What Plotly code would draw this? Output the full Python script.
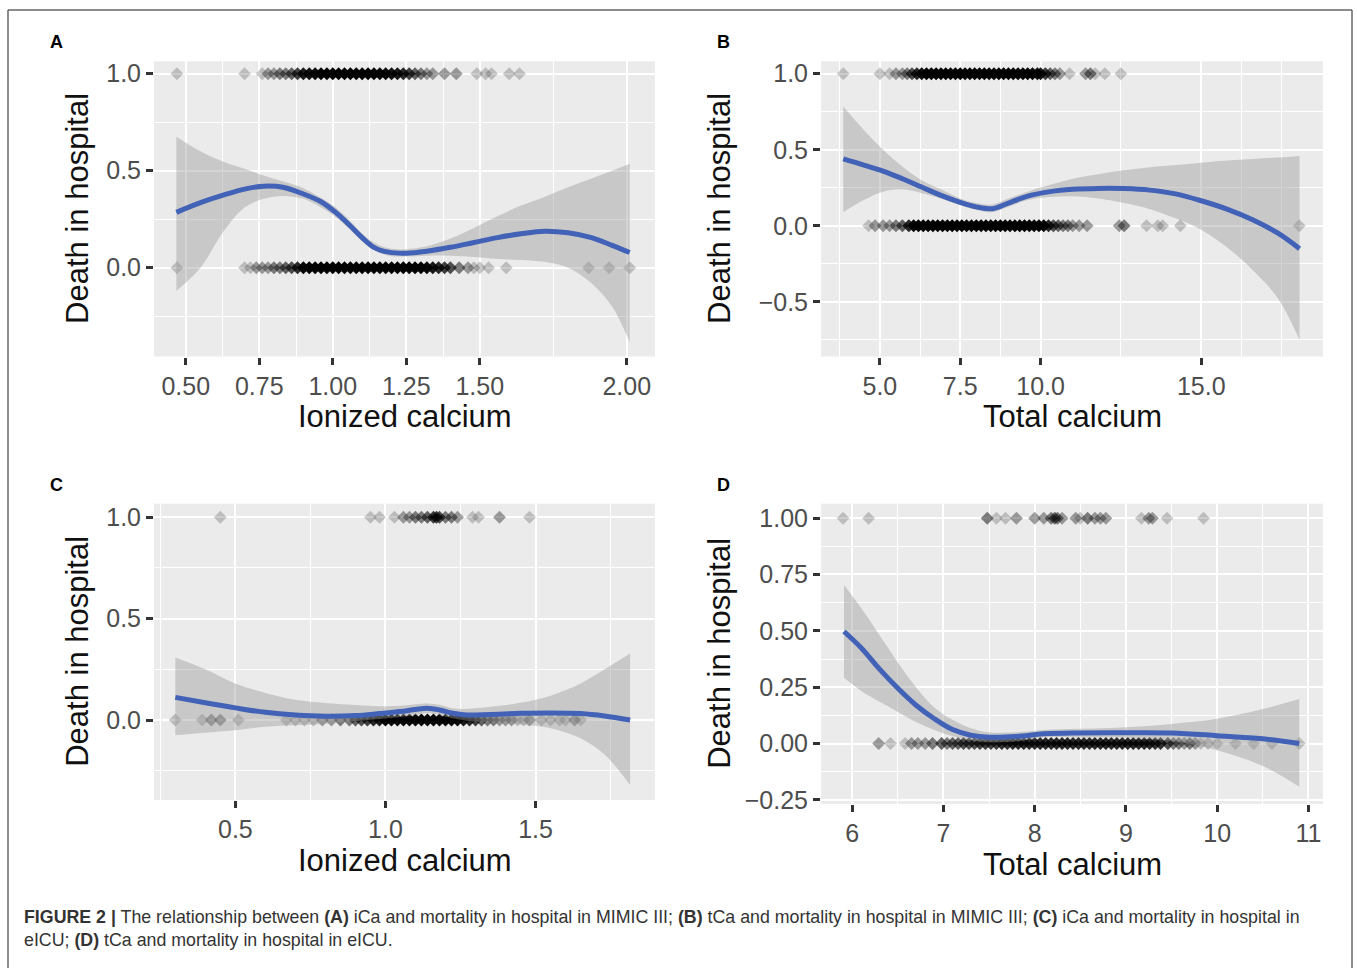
import plotly.graph_objects as go

W, H = 1357, 968

# ---------------- DATA ----------------
# Panel A: ionized calcium (MIMIC III)
a_x1 = [0.47, 0.70, 0.76, 0.78, 0.80, 0.82, 0.84, 0.86, 0.88, 0.90, 0.92, 0.94, 0.96, 0.98, 1.00, 1.02, 1.04, 1.06, 1.08, 1.10,
        1.12, 1.14, 1.16, 1.18, 1.20, 1.22, 1.24, 1.26, 1.28, 1.30, 1.32, 1.34, 1.38, 1.42, 1.49, 1.52, 1.54, 1.60, 1.635]
a_c1 = [1, 1, 1, 2, 2, 3, 3, 4, 6, 10, 12, 15, 20, 20, 20, 20, 20, 20, 20, 20,
        20, 20, 20, 15, 12, 10, 8, 6, 4, 3, 2, 2, 2, 2, 1, 1, 1, 1, 1]
a_x0 = [0.47, 0.70, 0.72, 0.74, 0.76, 0.78, 0.80, 0.82, 0.84, 0.86, 0.88, 0.90, 0.92, 0.94, 0.96, 0.98, 1.00, 1.02, 1.04, 1.06,
        1.08, 1.10, 1.12, 1.14, 1.16, 1.18, 1.20, 1.22, 1.24, 1.26, 1.28, 1.30, 1.32, 1.34, 1.36, 1.38, 1.40, 1.43, 1.46, 1.48,
        1.50, 1.53, 1.59, 1.87, 1.94, 2.01]
a_c0 = [1, 1, 1, 2, 2, 2, 3, 3, 4, 5, 8, 15, 20, 20, 20, 20, 20, 20, 20, 20,
        20, 20, 20, 20, 20, 20, 20, 20, 20, 20, 20, 20, 15, 10, 8, 6, 5, 3, 2, 1,
        1, 1, 1, 1, 1, 1]
a_sx = [0.468, 0.55, 0.63, 0.70, 0.765, 0.83, 0.90, 0.96, 1.01, 1.06, 1.10, 1.14, 1.19, 1.25, 1.32, 1.40, 1.48, 1.56, 1.64, 1.72, 1.80, 1.88, 1.95, 2.01]
a_fit = [0.285, 0.335, 0.375, 0.405, 0.42, 0.415, 0.38, 0.34, 0.285, 0.215, 0.155, 0.105, 0.08, 0.075, 0.085, 0.105, 0.13, 0.155, 0.175, 0.188, 0.18, 0.155, 0.115, 0.078]
a_lo = [-0.12, 0.0, 0.19, 0.31, 0.355, 0.37, 0.355, 0.31, 0.26, 0.195, 0.135, 0.09, 0.062, 0.058, 0.062, 0.062, 0.055, 0.045, 0.04, 0.03, 0.0, -0.08, -0.2, -0.385]
a_hi = [0.675, 0.60, 0.545, 0.51, 0.475, 0.445, 0.41, 0.36, 0.31, 0.24, 0.175, 0.13, 0.10, 0.095, 0.11, 0.15, 0.205, 0.265, 0.32, 0.365, 0.415, 0.46, 0.50, 0.536]

# Panel B: total calcium (MIMIC III)
b_x1 = [3.86, 5.0, 5.3, 5.5, 5.7, 5.85, 6.0, 6.15, 6.3, 6.45, 6.6, 6.75, 6.9, 7.05, 7.2, 7.35, 7.5, 7.65, 7.8, 7.95, 8.1, 8.25,
        8.4, 8.55, 8.7, 8.85, 9.0, 9.15, 9.3, 9.45, 9.6, 9.75, 9.9, 10.0, 10.15, 10.3, 10.45, 10.6, 10.9, 11.4, 11.55, 11.7, 12.0, 12.5]
b_c1 = [1, 1, 1, 2, 2, 3, 5, 8, 12, 20, 20, 20, 20, 20, 20, 20, 20, 20, 20, 20, 20, 20,
        20, 20, 20, 20, 20, 20, 20, 20, 20, 15, 12, 10, 6, 4, 3, 2, 1, 2, 3, 1, 1, 1]
b_x0 = [4.65, 4.85, 5.1, 5.3, 5.5, 5.7, 5.9, 6.05, 6.2, 6.35, 6.5, 6.65, 6.8, 6.95, 7.1, 7.25, 7.4, 7.55, 7.7, 7.85, 8.0, 8.15,
        8.3, 8.45, 8.6, 8.75, 8.9, 9.05, 9.2, 9.35, 9.5, 9.65, 9.8, 9.95, 10.1, 10.25, 10.4, 10.55, 10.7, 10.85, 11.0, 11.2, 11.45,
        12.45, 12.6, 13.3, 13.65, 13.8, 14.35, 18.05]
b_c0 = [1, 2, 2, 2, 3, 4, 8, 15, 20, 20, 20, 20, 20, 20, 20, 20, 20, 20, 20, 20, 20, 20,
        20, 20, 20, 20, 20, 20, 20, 20, 20, 20, 20, 20, 15, 8, 5, 4, 3, 3, 2, 2, 2,
        2, 3, 1, 1, 1, 1, 1]
b_sx = [3.86, 4.5, 5.1, 5.7, 6.3, 6.9, 7.5, 8.0, 8.5, 9.0, 9.6, 10.3, 11.0, 11.8, 12.6, 13.4, 14.2, 15.0, 15.8, 16.6, 17.4, 18.06]
b_fit = [0.44, 0.40, 0.36, 0.31, 0.255, 0.20, 0.155, 0.125, 0.113, 0.15, 0.195, 0.225, 0.24, 0.246, 0.245, 0.235, 0.21, 0.165, 0.11, 0.04, -0.05, -0.15]
b_lo = [0.09, 0.17, 0.225, 0.24, 0.215, 0.18, 0.135, 0.105, 0.09, 0.125, 0.17, 0.19, 0.195, 0.18, 0.15, 0.11, 0.05, -0.025, -0.14, -0.29, -0.48, -0.75]
b_hi = [0.784, 0.63, 0.50, 0.39, 0.30, 0.24, 0.18, 0.15, 0.14, 0.18, 0.225, 0.27, 0.31, 0.34, 0.365, 0.385, 0.40, 0.415, 0.43, 0.44, 0.45, 0.46]

# Panel C: ionized calcium (eICU)
c_x1 = [0.45, 0.95, 0.98, 1.03, 1.06, 1.08, 1.10, 1.12, 1.14, 1.16, 1.17, 1.18, 1.20, 1.22, 1.24, 1.29, 1.31, 1.38, 1.48]
c_c1 = [1, 1, 1, 1, 2, 2, 3, 3, 4, 6, 6, 5, 3, 3, 2, 1, 1, 2, 1]
c_x0 = [0.30, 0.39, 0.42, 0.45, 0.51, 0.67, 0.70, 0.73, 0.76, 0.79, 0.82, 0.85, 0.88, 0.90, 0.92, 0.94, 0.96, 0.98, 1.00, 1.02,
        1.04, 1.06, 1.08, 1.10, 1.12, 1.14, 1.16, 1.18, 1.20, 1.22, 1.24, 1.26, 1.28, 1.30, 1.32, 1.34, 1.36, 1.38, 1.40, 1.42,
        1.44, 1.46, 1.48, 1.52, 1.55, 1.58, 1.60, 1.63, 1.65]
c_c0 = [1, 1, 2, 2, 1, 1, 1, 1, 1, 2, 2, 3, 3, 4, 5, 6, 8, 10, 15, 15,
        15, 15, 15, 15, 15, 15, 15, 15, 15, 15, 15, 10, 8, 6, 4, 3, 3, 2, 2, 2,
        1, 1, 2, 1, 1, 1, 1, 2, 1]
c_sx = [0.30, 0.40, 0.50, 0.60, 0.70, 0.80, 0.90, 0.98, 1.05, 1.10, 1.14, 1.18, 1.22, 1.27, 1.35, 1.45, 1.55, 1.65, 1.73, 1.815]
c_fit = [0.112, 0.085, 0.06, 0.038, 0.025, 0.019, 0.022, 0.032, 0.042, 0.052, 0.058, 0.05, 0.035, 0.025, 0.028, 0.033, 0.035, 0.032, 0.02, 0.0]
c_lo = [-0.075, -0.062, -0.05, -0.033, -0.026, -0.018, -0.005, 0.005, 0.015, 0.025, 0.035, 0.025, 0.01, -0.003, -0.012, -0.022, -0.04, -0.09, -0.17, -0.32]
c_hi = [0.308, 0.25, 0.18, 0.134, 0.10, 0.084, 0.074, 0.068, 0.07, 0.078, 0.082, 0.075, 0.06, 0.055, 0.065, 0.085, 0.12, 0.18, 0.25, 0.328]

# Panel D: total calcium (eICU)
d_x1 = [5.9, 6.18, 7.48, 7.58, 7.68, 7.8, 8.0, 8.1, 8.18, 8.22, 8.25, 8.3, 8.45, 8.5, 8.58, 8.66, 8.72, 8.78, 9.17, 9.25, 9.29, 9.45, 9.85]
d_c1 = [1, 1, 3, 1, 1, 2, 2, 2, 3, 4, 3, 2, 2, 1, 3, 2, 2, 2, 1, 2, 2, 1, 1]
d_x0 = [6.29, 6.42, 6.58, 6.65, 6.72, 6.8, 6.88, 6.98, 7.04, 7.1, 7.16, 7.22, 7.28, 7.34, 7.4, 7.46, 7.52, 7.58, 7.64, 7.7,
        7.76, 7.82, 7.88, 7.94, 8.0, 8.06, 8.12, 8.18, 8.24, 8.3, 8.36, 8.42, 8.48, 8.54, 8.6, 8.66, 8.72, 8.78, 8.84, 8.9,
        8.96, 9.02, 9.08, 9.14, 9.2, 9.26, 9.32, 9.38, 9.46, 9.52, 9.58, 9.64, 9.7, 9.76, 9.82, 9.9, 10.0, 10.2, 10.4, 10.6, 10.9]
d_c0 = [2, 1, 1, 2, 2, 2, 3, 4, 3, 4, 4, 5, 5, 5, 6, 6, 6, 6, 7, 7,
        8, 8, 8, 8, 8, 8, 8, 8, 8, 8, 8, 8, 8, 8, 8, 8, 8, 8, 8, 8,
        8, 8, 8, 8, 8, 8, 7, 7, 5, 3, 3, 2, 3, 2, 1, 1, 1, 1, 1, 1, 1]
d_sx = [5.91, 6.1, 6.3, 6.5, 6.7, 6.9, 7.1, 7.3, 7.5, 7.8, 8.1, 8.5, 9.0, 9.5, 10.0, 10.5, 10.9]
d_fit = [0.497, 0.424, 0.33, 0.245, 0.17, 0.11, 0.062, 0.037, 0.028, 0.031, 0.043, 0.047, 0.048, 0.047, 0.035, 0.021, 0.0]
d_lo = [0.292, 0.233, 0.185, 0.14, 0.095, 0.06, 0.032, 0.015, 0.006, 0.01, 0.028, 0.026, 0.025, 0.012, -0.03, -0.1, -0.192]
d_hi = [0.703, 0.60, 0.48, 0.36, 0.25, 0.16, 0.105, 0.068, 0.05, 0.05, 0.06, 0.065, 0.072, 0.087, 0.11, 0.153, 0.197]

# Axis ticks
a_xt = [0.5, 0.75, 1.0, 1.25, 1.5, 2.0]
a_xl = ["0.50", "0.75", "1.00", "1.25", "1.50", "2.00"]
a_xm = [0.625, 0.875, 1.125, 1.375, 1.75]
a_yt = [0.0, 0.5, 1.0]
a_yl = ["0.0", "0.5", "1.0"]
a_ym = [-0.25, 0.25, 0.75]

b_xt = [5.0, 7.5, 10.0, 15.0]
b_xl = ["5.0", "7.5", "10.0", "15.0"]
b_xm = [3.75, 6.25, 8.75, 12.5, 16.25, 17.5]
b_yt = [-0.5, 0.0, 0.5, 1.0]
b_yl = ["\u22120.5", "0.0", "0.5", "1.0"]
b_ym = [-0.75, -0.25, 0.25, 0.75]

c_xt = [0.5, 1.0, 1.5]
c_xl = ["0.5", "1.0", "1.5"]
c_xm = [0.25, 0.75, 1.25, 1.75]
c_yt = [0.0, 0.5, 1.0]
c_yl = ["0.0", "0.5", "1.0"]
c_ym = [-0.25, 0.25, 0.75]

d_xt = [6, 7, 8, 9, 10, 11]
d_xl = ["6", "7", "8", "9", "10", "11"]
d_xm = [6.5, 7.5, 8.5, 9.5, 10.5]
d_yt = [-0.25, 0.0, 0.25, 0.5, 0.75, 1.0]
d_yl = ["\u22120.25", "0.00", "0.25", "0.50", "0.75", "1.00"]
d_ym = [-0.125, 0.125, 0.375, 0.625, 0.875]

# ---------------- FIGURE ----------------
FONT = "Liberation Sans, Arial, Helvetica, sans-serif"
ALPHA = 0.2
BLUE = "#4262B8"
BAND = "rgba(153,153,153,0.42)"

panels = [
    dict(key="", x1=a_x1, c1=a_c1, x0=a_x0, c0=a_c0, sx=a_sx, fit=a_fit, lo=a_lo, hi=a_hi,
         xr=[0.392, 2.096], yr=[-0.458, 1.064], xt=a_xt, xl=a_xl, xm=a_xm, yt=a_yt, yl=a_yl, ym=a_ym,
         px=(154, 655), py=(60, 359), label="A", xtitle="Ionized calcium", ytx=78),
    dict(key="2", x1=b_x1, c1=b_c1, x0=b_x0, c0=b_c0, sx=b_sx, fit=b_fit, lo=b_lo, hi=b_hi,
         xr=[3.167, 18.79], yr=[-0.859, 1.082], xt=b_xt, xl=b_xl, xm=b_xm, yt=b_yt, yl=b_yl, ym=b_ym,
         px=(821, 1323), py=(60, 359), label="B", xtitle="Total calcium", ytx=720),
    dict(key="3", x1=c_x1, c1=c_c1, x0=c_x0, c0=c_c0, sx=c_sx, fit=c_fit, lo=c_lo, hi=c_hi,
         xr=[0.229, 1.898], yr=[-0.394, 1.0666], xt=c_xt, xl=c_xl, xm=c_xm, yt=c_yt, yl=c_yl, ym=c_ym,
         px=(154, 655), py=(508, 808), label="C", xtitle="Ionized calcium", ytx=78),
    dict(key="4", x1=d_x1, c1=d_c1, x0=d_x0, c0=d_c0, sx=d_sx, fit=d_fit, lo=d_lo, hi=d_hi,
         xr=[5.658, 11.16], yr=[-0.268, 1.064], xt=d_xt, xl=d_xl, xm=d_xm, yt=d_yt, yl=d_yl, ym=d_ym,
         px=(821, 1323), py=(508, 812), label="D", xtitle="Total calcium", ytx=720),
]

fig = go.Figure()
annotations = []
layout_axes = {}

for p in panels:
    xa = "x" + p["key"]
    ya = "y" + p["key"]
    # scatter points (y = 1 and y = 0)
    for xs, cs, yv in [(p["x0"], p["c0"], 0), (p["x1"], p["c1"], 1)]:
        fig.add_trace(go.Scatter(
            x=xs, y=[yv] * len(xs), mode="markers", xaxis=xa, yaxis=ya,
            marker=dict(symbol="diamond", size=10, color="black",
                        opacity=[1 - (1 - ALPHA) ** c for c in cs], line=dict(width=0)),
            hoverinfo="skip", showlegend=False))
    # confidence band
    fig.add_trace(go.Scatter(x=p["sx"], y=p["lo"], mode="lines", line=dict(width=0, shape="spline"),
                             xaxis=xa, yaxis=ya, showlegend=False, hoverinfo="skip"))
    fig.add_trace(go.Scatter(x=p["sx"], y=p["hi"], mode="lines", line=dict(width=0, shape="spline"),
                             fill="tonexty", fillcolor=BAND,
                             xaxis=xa, yaxis=ya, showlegend=False, hoverinfo="skip"))
    # smooth line
    fig.add_trace(go.Scatter(x=p["sx"], y=p["fit"], mode="lines",
                             line=dict(color=BLUE, width=5, shape="spline"),
                             xaxis=xa, yaxis=ya, showlegend=False, hoverinfo="skip"))

    x0p, x1p = p["px"]
    y0p, y1p = p["py"]
    xname = "xaxis" + p["key"]
    yname = "yaxis" + p["key"]
    common = dict(showline=False, zeroline=False, showgrid=True, gridcolor="white", gridwidth=2.2,
                  ticks="outside", ticklen=7, tickwidth=3, tickcolor="#333333",
                  tickfont=dict(family=FONT, size=25, color="#4D4D4D"), tickmode="array")
    layout_axes[xname] = dict(common, domain=[x0p / W, x1p / W], range=p["xr"], anchor=ya,
                              tickvals=p["xt"], ticktext=p["xl"],
                              minor=dict(tickmode="array", tickvals=p["xm"], showgrid=True,
                                         gridcolor="white", gridwidth=1.1, ticks=""))
    layout_axes[yname] = dict(common, domain=[1 - y1p / H, 1 - y0p / H], range=p["yr"], anchor=xa,
                              tickvals=p["yt"], ticktext=p["yl"],
                              minor=dict(tickmode="array", tickvals=p["ym"], showgrid=True,
                                         gridcolor="white", gridwidth=1.1, ticks=""))
    # panel label
    annotations.append(dict(text="<b>%s</b>" % p["label"], x=(x0p - 98) / W, y=1 - (y0p - 19) / H,
                            xref="paper", yref="paper", showarrow=False, xanchor="center", yanchor="middle",
                            font=dict(family=FONT, size=18, color="black")))
    # axis titles
    annotations.append(dict(text=p["xtitle"], x=(x0p + x1p) / 2 / W, y=1 - (y1p + 61) / H,
                            xref="paper", yref="paper", showarrow=False, xanchor="center", yanchor="middle",
                            font=dict(family=FONT, size=31, color="#111111")))
    annotations.append(dict(text="Death in hospital", x=p["ytx"] / W, y=1 - (y0p + y1p) / 2 / H,
                            xref="paper", yref="paper", showarrow=False, xanchor="center", yanchor="middle",
                            textangle=-90, font=dict(family=FONT, size=31, color="#111111")))

# caption
cap1 = ("<b>FIGURE 2 |</b> The relationship between <b>(A)</b> iCa and mortality in hospital in MIMIC III; "
        "<b>(B)</b> tCa and mortality in hospital in MIMIC III; <b>(C)</b> iCa and mortality in hospital in")
cap2 = "eICU; <b>(D)</b> tCa and mortality in hospital in eICU."
for txt, yy in [(cap1, 926), (cap2, 950)]:
    annotations.append(dict(text=txt, x=22 / W, y=1 - yy / H, xref="paper", yref="paper", showarrow=False,
                            xanchor="left", yanchor="middle", align="left",
                            font=dict(family=FONT, size=17.8, color="#333333")))

shapes = [
    dict(type="line", xref="paper", yref="paper", x0=8 / W, x1=1352 / W, y0=1 - 8 / H, y1=1 - 8 / H,
         line=dict(color="#666666", width=1.5)),
    dict(type="line", xref="paper", yref="paper", x0=8 / W, x1=8 / W, y0=1 - 8 / H, y1=-0.02,
         line=dict(color="#666666", width=1.5)),
    dict(type="line", xref="paper", yref="paper", x0=1352 / W, x1=1352 / W, y0=1 - 8 / H, y1=-0.02,
         line=dict(color="#666666", width=1.5)),
]

fig.update_layout(width=W, height=H, margin=dict(l=0, r=0, t=0, b=0),
                  paper_bgcolor="white", plot_bgcolor="#EBEBEB", showlegend=False,
                  annotations=annotations, shapes=shapes, **layout_axes)

fig.write_html("out.html")
